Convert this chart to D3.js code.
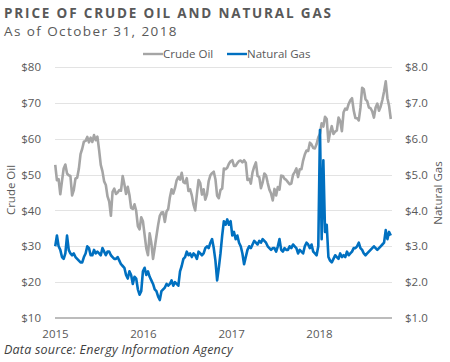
<!DOCTYPE html>
<html>
<head>
<meta charset="utf-8">
<script src="https://cdn.jsdelivr.net/npm/d3@7"></script>
<style>
  body { margin: 0; background: #fff; }
  svg { display: block; font-family: "Open Sans", sans-serif; }
</style>
</head>
<body>
<svg id="chart" width="450" height="362"></svg>
<script>
// weekly (Friday) prices
var crude2015 = [52.7,48.4,48.7,44.5,48.2,51.7,52.8,50.3,49.8,49.6,44.2,45.7,48.9,49.1,51.6,55.7,57.2,59.2,59.4,60.5,
  59.0,60.3,59.1,61.0,59.6,60.6,56.9,52.7,50.9,48.1,47.1,43.9,42.5,38.5,45.2,46.1,44.6,45.0,45.7,45.5,
  49.6,47.3,44.6,46.6,44.3,40.7,40.4,41.7,39.9,35.6,34.7,38.1];
var crude2016 = [37.0,33.2,29.4,27.5,33.6,30.9,26.5,29.6,32.8,35.9,38.5,39.4,39.5,36.8,39.7,40.4,43.7,45.9,44.7,46.2,
  48.4,49.3,48.6,50.5,47.9,47.6,49.0,45.4,45.9,44.2,41.6,40.0,44.5,48.5,47.6,44.4,45.9,43.0,44.5,48.2,
  49.8,50.4,50.8,48.7,44.1,43.4,45.7,46.1,51.7,51.5,51.9,53.0,53.7];
var crude2017 = [54.0,52.4,52.4,53.2,53.8,53.9,53.4,54.0,53.3,48.5,48.8,47.5,50.6,52.2,53.4,49.6,49.3,46.2,47.8,50.3,
  49.8,47.7,45.8,44.7,42.8,46.0,44.2,46.5,45.8,49.7,49.6,48.8,48.5,47.9,47.3,47.5,49.9,50.7,51.7,49.3,
  51.5,51.5,53.9,55.6,56.7,56.6,58.9,58.4,57.4,57.3,58.5,60.4];
var crude2018 = [61.4,64.3,63.4,66.1,65.5,59.2,61.7,63.5,61.3,62.0,62.3,65.9,64.9,62.1,67.4,68.4,68.1,69.7,70.7,71.3,
  67.9,65.8,65.7,65.1,68.6,74.2,73.8,71.0,70.5,68.7,68.5,67.6,65.9,68.7,69.8,67.8,69.0,70.8,73.2,76.0,
  71.3,69.1,65.5];

var gas2015 = [3.0,3.3,3.0,2.9,2.7,2.65,2.8,3.3,2.9,2.8,2.75,2.8,2.7,2.65,2.6,2.55,2.55,2.7,2.8,3.0,
  2.95,2.75,2.75,2.9,2.8,2.85,2.8,2.75,2.95,2.85,2.75,2.85,2.85,2.75,2.7,2.65,2.65,2.7,2.6,2.5,
  2.45,2.4,2.2,2.1,2.3,2.2,1.95,2.15,2.1,1.8,1.65,1.75];
var gas2016 = [2.3,2.4,2.2,2.3,2.15,2.05,1.95,1.8,1.75,1.6,1.5,1.75,1.8,1.85,1.95,1.9,1.95,2.05,1.9,2.0,
  1.95,1.9,2.3,2.45,2.65,2.7,2.85,2.75,2.8,2.7,2.8,2.75,2.65,2.85,2.8,2.75,2.8,2.95,3.0,2.95,
  3.1,3.2,2.95,2.6,2.05,2.4,2.8,3.3,3.7,3.6,3.75,3.6,3.7];
var gas2017 = [3.3,3.4,3.2,3.3,3.1,3.0,2.8,2.5,2.7,2.9,3.0,2.95,3.05,3.15,3.1,3.05,3.15,3.1,3.2,3.15,
  3.1,3.0,2.95,2.9,2.95,2.95,2.85,3.0,3.2,2.9,2.85,2.95,2.9,2.9,3.0,2.95,3.05,3.0,2.95,2.8,
  2.9,2.85,2.8,3.0,3.1,3.05,2.95,3.05,2.85,2.8,2.75,3.0];
var gas2018 = [6.24,3.2,5.4,3.4,3.6,2.7,2.6,2.55,2.65,2.75,2.7,2.65,2.8,2.7,2.75,2.7,2.85,2.75,2.8,2.85,
  2.95,2.95,3.0,3.1,2.95,2.9,2.8,2.75,2.8,2.85,2.9,2.95,3.0,2.95,2.9,2.95,3.0,3.05,3.1,3.45,
  3.2,3.4,3.3];

var years = [2015, 2016, 2017, 2018];
var crudeTicks = [10, 20, 30, 40, 50, 60, 70, 80];
var gasTicks = [1, 2, 3, 4, 5, 6, 7, 8];

var startDate = new Date(2015, 0, 1), endDate = new Date(2018, 9, 31);

function weekly(yearVals) {
  var out = [];
  yearVals.forEach(function(vals, k) {
    var fridays = d3.timeFriday.range(new Date(years[k], 0, 1), k === 3 ? endDate : new Date(years[k] + 1, 0, 1));
    for (var i = 0; i < Math.min(vals.length, fridays.length); i++) out.push({date: fridays[i], value: vals[i]});
  });
  return out;
}
var crude = weekly([crude2015, crude2016, crude2017, crude2018]);
var gas = weekly([gas2015, gas2016, gas2017, gas2018]);

var svg = d3.select('#chart');
var x = d3.scaleTime().domain([startDate, endDate]).range([55, 392]);
var yL = d3.scaleLinear().domain([10, 80]).range([318, 67]);
var yR = d3.scaleLinear().domain([1, 8]).range([318, 67]);

// gridlines
svg.append('g').selectAll('line').data(crudeTicks.slice(1)).join('line')
  .attr('x1', 55).attr('x2', 392)
  .attr('y1', function(d) { return Math.round(yL(d)) + 0.5; })
  .attr('y2', function(d) { return Math.round(yL(d)) + 0.5; })
  .attr('stroke', '#e3e3e3').attr('stroke-width', 1);

// left axis labels
var left = d3.axisLeft(yL).tickValues(crudeTicks).tickSize(0).tickPadding(0).tickFormat(function(d) { return '$' + d; });
svg.append('g').attr('transform', 'translate(41,0)').call(left)
  .call(function(g) { g.select('.domain').remove(); })
  .selectAll('text').attr('fill', '#595959').style('font-size', '11.5px').style('font-family', '"Open Sans", sans-serif');

var right = d3.axisRight(yR).tickValues(gasTicks).tickSize(0).tickPadding(0).tickFormat(function(d) { return '$' + d.toFixed(1); });
svg.append('g').attr('transform', 'translate(405,0)').call(right)
  .call(function(g) { g.select('.domain').remove(); })
  .selectAll('text').attr('fill', '#595959').style('font-size', '11.5px').style('font-family', '"Open Sans", sans-serif');

// x axis
var bottom = d3.axisBottom(x).tickValues(years.map(function(y) { return new Date(y, 0, 1); }))
  .tickSize(0).tickPadding(0).tickFormat(d3.timeFormat('%Y'));
svg.append('g').attr('transform', 'translate(0,330)').call(bottom)
  .call(function(g) { g.select('.domain').remove(); })
  .selectAll('text').attr('fill', '#595959').style('font-size', '11.5px').style('font-family', '"Open Sans", sans-serif');

svg.append('line').attr('x1', 55).attr('x2', 392).attr('y1', 318).attr('y2', 318)
  .attr('stroke', '#a6a6a6').attr('stroke-width', 1.5);

// series
var lineL = d3.line().x(function(d) { return x(d.date); }).y(function(d) { return yL(d.value); });
var lineR = d3.line().x(function(d) { return x(d.date); }).y(function(d) { return yR(d.value); });
svg.append('path').datum(crude).attr('d', lineL).attr('fill', 'none')
  .attr('stroke', '#a5a5a5').attr('stroke-width', 2.6).attr('stroke-linejoin', 'round');
svg.append('path').datum(gas).attr('d', lineR).attr('fill', 'none')
  .attr('stroke', '#0070c0').attr('stroke-width', 2.6).attr('stroke-linejoin', 'round');

// axis titles
svg.append('text').attr('transform', 'translate(15,190) rotate(-90)').attr('text-anchor', 'middle')
  .attr('fill', '#595959').style('font-size', '11.5px').text('Crude Oil');
svg.append('text').attr('transform', 'translate(442,193) rotate(-90)').attr('text-anchor', 'middle')
  .attr('fill', '#595959').style('font-size', '11.5px').text('Natural Gas');

// legend
var legend = [{name: 'Crude Oil', color: '#a5a5a5', x: 143}, {name: 'Natural Gas', color: '#0070c0', x: 227}];
var lg = svg.append('g').selectAll('g').data(legend).join('g')
  .attr('transform', function(d) { return 'translate(' + d.x + ',54)'; });
lg.append('line').attr('x1', 0).attr('x2', 20).attr('stroke', function(d) { return d.color; }).attr('stroke-width', 2.4);
lg.append('text').attr('x', 20).attr('y', 4).attr('fill', '#595959').style('font-size', '11.5px')
  .text(function(d) { return d.name; });

// titles
function fitText(sel, w) {
  var n = sel.text().length;
  var cur = sel.node().getComputedTextLength();
  sel.attr('letter-spacing', ((w - cur) / n).toFixed(2) + 'px');
}
var t1 = svg.append('text').attr('x', 4).attr('y', 18).attr('fill', '#595959')
  .style('font-size', '13.5px').style('font-weight', 'bold').text('PRICE OF CRUDE OIL AND NATURAL GAS');
fitText(t1, 329);
var t2 = svg.append('text').attr('x', 4).attr('y', 36).attr('fill', '#595959')
  .style('font-size', '13.5px').text('As of October 31, 2018');
fitText(t2, 174);

var src = svg.append('text').attr('x', 4).attr('y', 354).attr('fill', '#404040')
  .style('font-size', '12.5px').style('font-style', 'italic').text('Data source: Energy Information Agency');
fitText(src, 229);
</script>
</body>
</html>
